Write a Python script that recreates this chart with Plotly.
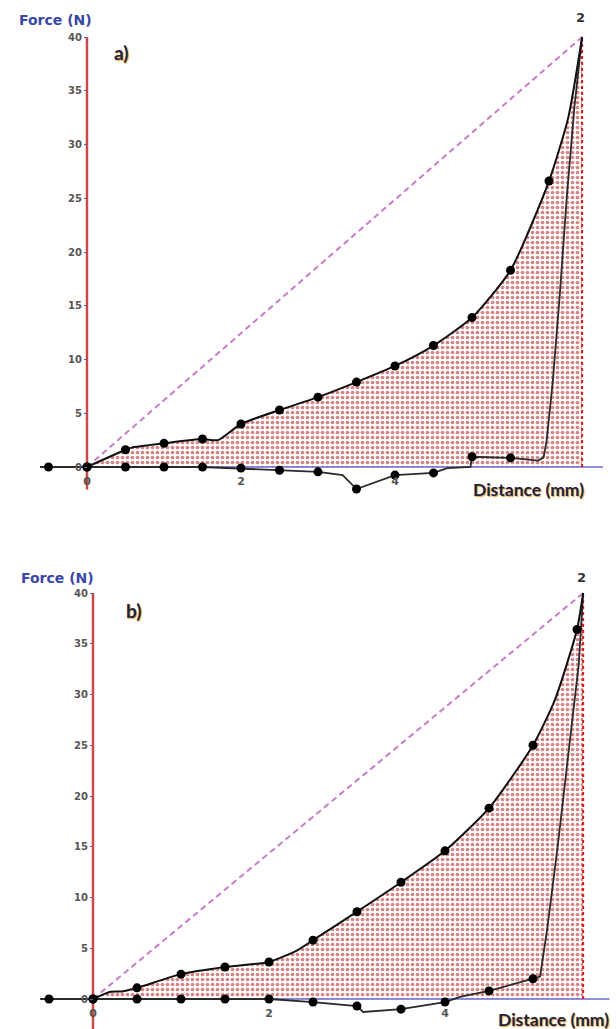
import plotly.graph_objects as go

W, H = 616, 1029

# ---- panel a) -------------------------------------------------------------
a_load_x = [0, 0.5, 0.58, 1.0, 1.5, 1.7, 2.0, 2.5, 3.0, 3.5, 4.0, 4.5, 5.0, 5.5, 6.0, 6.25, 6.43]
a_load_y = [0, 1.6, 1.8, 2.2, 2.6, 2.5, 4.0, 5.3, 6.5, 7.9, 9.4, 11.3, 13.9, 18.3, 26.6, 32.5, 40]
a_unload_x = [6.43, 6.33, 6.23, 6.14, 6.05, 5.97, 5.93, 5.86, 5.5, 5.0, 4.98, 4.68, 4.5, 4.0,
              3.5, 3.32, 3.0, 2.5, 2.0, 1.5, 1.0, 0.5, 0.0, -0.5, -0.61]
a_unload_y = [40, 33.5, 25, 16, 8, 2.5, 0.9, 0.6, 0.85, 0.95, 0.0, -0.1, -0.55, -0.75,
              -2.05, -0.75, -0.45, -0.3, -0.1, 0, 0, 0, 0, 0, 0]

# ---- panel b) -------------------------------------------------------------
b_load_x = [0, 0.19, 0.33, 0.5, 1.0, 1.5, 2.0, 2.32, 2.5, 3.0, 3.5, 4.0, 4.5, 5.0, 5.25, 5.5, 5.57]
b_load_y = [0, 0.7, 0.75, 1.1, 2.45, 3.15, 3.65, 4.8, 5.8, 8.6, 11.5, 14.6, 18.8, 25.0, 29.5, 36.4, 40]
b_unload_x = [5.57, 5.52, 5.4, 5.28, 5.16, 5.08, 5.0, 4.5, 4.17, 4.0, 3.5, 3.07, 3.0, 2.5,
              2.0, 1.5, 1.0, 0.5, 0.0, -0.5, -0.6]
b_unload_y = [40, 33, 24, 15, 6.8, 2.2, 2.0, 0.8, 0.2, -0.3, -1.0, -1.28, -0.69, -0.3,
              0, 0, 0, 0, 0, 0, 0]

y_ticks = [0, 5, 10, 15, 20, 25, 30, 35, 40]
x_ticks = [0, 2, 4]
peak_force = 40

panels = [
    dict(name="a", load=(a_load_x, a_load_y), unload=(a_unload_x, a_unload_y),
         x0px=87, pxmm=77, y0px=467, pxN=10.75, top=0, bottom=510,
         axis_end=6.70, axis_low=-2.1, label="a)",
         force_lbl=(55, 20), panel_lbl=(121, 52), two_lbl=(580, 17), dist_lbl=(528, 489)),
    dict(name="b", load=(b_load_x, b_load_y), unload=(b_unload_x, b_unload_y),
         x0px=93, pxmm=88, y0px=999, pxN=10.15, top=512, bottom=H,
         axis_end=5.87, axis_low=-3.0, label="b)",
         force_lbl=(57, 578), panel_lbl=(133, 610), two_lbl=(581, 577), dist_lbl=(553, 1019)),
]


def on_half_mm(x):
    return abs(x * 2 - round(x * 2)) < 1e-9


fig = go.Figure()
layout = dict(width=W, height=H, margin=dict(l=0, r=0, t=0, b=0),
              paper_bgcolor="white", plot_bgcolor="white", showlegend=False,
              annotations=[])

ytick_font = dict(family="DejaVu Sans", size=10, color="#555555", weight="bold")
xtick_font = dict(family="DejaVu Sans", size=11, color="#555555", weight="bold")
dist_font = dict(family="Lato", size=17.5, color="#1c2346", weight="bold",
                 shadow="1px 1px 1px #e9a23b")

for i, p in enumerate(panels, start=1):
    xa = "x" if i == 1 else f"x{i}"
    ya = "y" if i == 1 else f"y{i}"
    lx, ly = p["load"]
    ux, uy = p["unload"]
    x_end = lx[-1]

    # dotted hatch area under the loading curve
    fig.add_trace(go.Scatter(
        x=list(lx) + [x_end, 0], y=list(ly) + [0, 0], xaxis=xa, yaxis=ya,
        mode="lines", line=dict(width=0), fill="toself", fillcolor="rgba(0,0,0,0)",
        fillpattern=dict(shape=".", fgcolor="#ac0d0d", size=5, solidity=0.44),
        hoverinfo="skip"))

    # straight reference line from origin to the peak
    fig.add_trace(go.Scatter(
        x=[0, x_end], y=[0, peak_force], xaxis=xa, yaxis=ya, mode="lines",
        line=dict(color="#c77dc7", width=2, dash="6px,4px"), hoverinfo="skip"))

    # distance axis line
    fig.add_trace(go.Scatter(
        x=[0, p["axis_end"]], y=[0, 0], xaxis=xa, yaxis=ya, mode="lines",
        line=dict(color="#6a6ad2", width=1.5), hoverinfo="skip"))

    # force axis line
    fig.add_trace(go.Scatter(
        x=[0, 0], y=[p["axis_low"], peak_force], xaxis=xa, yaxis=ya, mode="lines",
        line=dict(color="#c84a4a", width=2.5), hoverinfo="skip"))

    # closing line at the peak distance
    fig.add_trace(go.Scatter(
        x=[x_end, x_end], y=[0, peak_force], xaxis=xa, yaxis=ya, mode="lines",
        line=dict(color="#d41818", width=2, dash="dot"), hoverinfo="skip"))

    # unloading curve
    fig.add_trace(go.Scatter(
        x=ux, y=uy, xaxis=xa, yaxis=ya, mode="lines",
        line=dict(color="#2a2a2a", width=1.8), hoverinfo="skip"))

    # loading curve
    fig.add_trace(go.Scatter(
        x=lx, y=ly, xaxis=xa, yaxis=ya, mode="lines",
        line=dict(color="#111111", width=2, shape="spline", smoothing=0.6),
        hoverinfo="skip"))

    # sampled points every 0.5 mm
    mx = [x for x in lx if on_half_mm(x)] + [x for x in ux if on_half_mm(x)]
    my = [y for x, y in zip(lx, ly) if on_half_mm(x)] + [y for x, y in zip(ux, uy) if on_half_mm(x)]
    fig.add_trace(go.Scatter(
        x=mx, y=my, xaxis=xa, yaxis=ya, mode="markers",
        marker=dict(color="#000000", size=9, symbol="circle"), hoverinfo="skip"))

    # axes: ranges chosen so that data units map onto the panel's pixel grid
    x_range = [-p["x0px"] / p["pxmm"], (W - p["x0px"]) / p["pxmm"]]
    y_range = [(p["y0px"] - p["bottom"]) / p["pxN"], (p["y0px"] - p["top"]) / p["pxN"]]
    dom_y = [1 - p["bottom"] / H, 1 - p["top"] / H]

    layout["xaxis" if i == 1 else f"xaxis{i}"] = dict(
        domain=[0, 1], range=x_range, anchor="free", position=1 - p["y0px"] / H,
        showgrid=False, zeroline=False, showline=False,
        tickvals=x_ticks, ticks="outside", ticklen=4, tickcolor="rgba(0,0,0,0)",
        tickfont=xtick_font, fixedrange=True)
    layout["yaxis" if i == 1 else f"yaxis{i}"] = dict(
        domain=dom_y, range=y_range, anchor="free", position=p["x0px"] / W,
        showgrid=False, zeroline=False, showline=False,
        tickvals=y_ticks, ticks="outside", ticklen=3, tickwidth=1, tickcolor="#7a4fa0",
        tickfont=ytick_font, fixedrange=True)

    def ann(pos, text, font, xanchor="center"):
        layout["annotations"].append(dict(
            x=pos[0] / W, y=1 - pos[1] / H, xref="paper", yref="paper",
            text=text, showarrow=False, xanchor=xanchor, yanchor="middle", font=font))

    ann(p["force_lbl"], "Force (N)",
        dict(family="DejaVu Sans", size=14, color="#3a47a6", weight="bold"))
    ann(p["panel_lbl"], p["label"],
        dict(family="Lato", size=19, color="#1c2346", weight="bold",
             shadow="1px 1px 1px #e9a23b"))
    ann(p["two_lbl"], "2",
        dict(family="DejaVu Sans", size=13, color="#333333", weight="bold"))
    ann(p["dist_lbl"], "Distance (mm)", dist_font)

fig.update_layout(**layout)
fig.write_html("out.html")
